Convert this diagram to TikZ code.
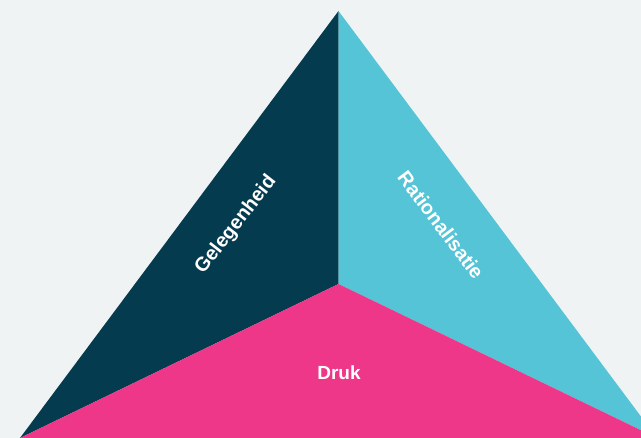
\documentclass[tikz,border=0pt]{standalone}
\usepackage{fontspec}
\setmainfont{Liberation Sans}
\definecolor{bgc}{HTML}{EFF3F4}
\definecolor{darkc}{HTML}{053B4F}
\definecolor{cyanc}{HTML}{54C4D6}
\definecolor{pinkc}{HTML}{EF3789}
\tikzset{lbl/.style={text=white,font=\fontsize{19}{22}\selectfont\bfseries,inner sep=0pt},
  rlbl/.style={lbl,font=\fontsize{19.8}{22}\selectfont\bfseries}}
\begin{document}
\begin{tikzpicture}[x=1pt,y=-1pt]
\useasboundingbox (0,0) rectangle (641,438);
\fill[bgc] (0,0) rectangle (641,438);
\begin{scope}
\clip (0,0) rectangle (641,438);
\coordinate (apex) at (338.5,11);
\coordinate (ctr) at (338.5,284);
\coordinate (bl) at (20,438);
\coordinate (br) at (657,438);
\fill[darkc] (apex) -- (ctr) -- (bl) -- cycle;
\fill[cyanc] (apex) -- (br) -- (ctr) -- cycle;
\fill[pinkc] (ctr) -- (br) -- (bl) -- cycle;
\end{scope}
\node[rlbl,rotate=52] (gel) at (236,225) {Gelegenheid};
\node[rlbl,rotate=-53] (rat) at (441,225) {Rationalisatie};
\node[lbl] (druk) at (339,373) {Druk};
\end{tikzpicture}
\end{document}
